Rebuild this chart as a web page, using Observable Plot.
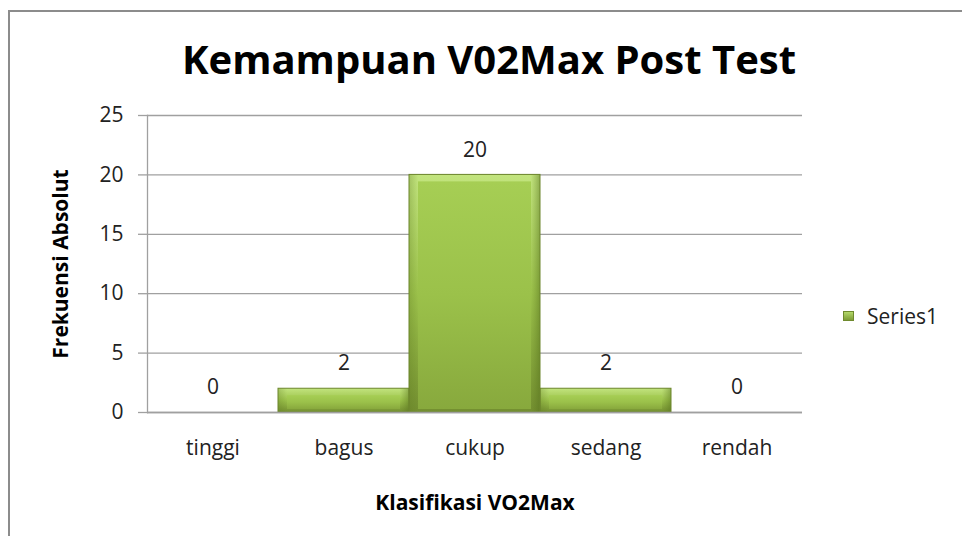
<!DOCTYPE html>
<html><head><meta charset="utf-8">
<script src="https://cdn.jsdelivr.net/npm/d3@7"></script>
<script src="https://cdn.jsdelivr.net/npm/@observablehq/plot@0.6"></script>
<style>
body{margin:0;overflow:hidden;background:#fff;font-family:"Open Sans",Lato,sans-serif;color:#222}
#wrap{position:relative;width:962px;height:536px;overflow:hidden}
#frame{position:absolute;left:8px;top:10px;width:1000px;height:600px;border:2px solid #8c8c8c;box-sizing:border-box}
#title{position:absolute;left:0;width:978px;top:35px;line-height:48px;text-align:center;font-weight:bold;font-size:40px;color:#000;white-space:nowrap}
#chart{position:absolute;left:0;top:100px}
#legend{position:absolute;left:843px;top:302px;font-size:21px;line-height:28px;color:#222;display:flex;align-items:center}
#legend .sw{width:9px;height:8px;margin-right:13px;background:linear-gradient(#b3d86a,#7d9c35);border:1px solid #6f8a2e}
g[aria-label="y-axis label"] text,g[aria-label="x-axis label"] text{font-weight:bold;fill:#000}
</style></head>
<body><div id="wrap"><div id="frame"></div><div id="title"></div><div id="chart"></div><div id="legend"><span class="sw"></span><span id="legtext"></span></div></div>
<script>
const titleText = "Kemampuan V02Max Post Test";
const xTitle = "Klasifikasi VO2Max";
const yTitle = "Frekuensi Absolut";
const seriesName = "Series1";
const categories = ["tinggi", "bagus", "cukup", "sedang", "rendah"];
const values = [0, 2, 20, 2, 0];
const yTicks = [0, 5, 10, 15, 20, 25];

const data = categories.map((c, i) => ({cat: c, value: values[i]}));
document.getElementById("title").textContent = titleText;
document.getElementById("legtext").textContent = seriesName;

const chart = Plot.plot({
  width: 962, height: 430,
  marginLeft: 147, marginRight: 160, marginTop: 15, marginBottom: 118,
  style: {fontFamily: "'Open Sans', Lato, sans-serif", fontSize: "21px", color: "#222", background: "transparent"},
  x: {domain: categories, padding: 0},
  y: {domain: [0, 25]},
  marks: [
    Plot.gridY(yTicks, {stroke: "#a0a0a0", strokeOpacity: 1, strokeWidth: 1.3}),
    Plot.axisY({ticks: yTicks, tickSize: 9, tickPadding: 15, stroke: "#a0a0a0", strokeWidth: 1.3,
      label: yTitle, labelAnchor: "center", labelArrow: "none", labelOffset: 94, fontSize: 21}),
    Plot.axisX({tickSize: 0, tickPadding: 28, label: xTitle, labelAnchor: "center", labelArrow: "none", labelOffset: 97, fontSize: 21}),
    Plot.frame({anchor: "left", stroke: "#a0a0a0", strokeWidth: 1.3}),
    Plot.barY(data, {filter: d => d.value > 0, x: "cat", y: "value", fill: "url(#gEdge)"}),
    Plot.barY(data, {filter: d => d.value > 0, x: "cat", y: "value", fill: "url(#gSide)"}),
    Plot.barY(data, {filter: d => d.value > 0, x: "cat", y: "value", fill: "url(#gFace)", insetLeft: 9, insetRight: 9, insetTop: 7, insetBottom: 3}),
    Plot.barY(data, {filter: d => d.value > 0, x: "cat", y: "value", fill: "none", stroke: "#6c862c", strokeWidth: 1}),
    Plot.ruleY([0], {stroke: "#a0a0a0", strokeWidth: 1.3}),
    Plot.text(data, {x: "cat", y: "value", text: d => String(d.value), dy: -25, fontSize: 21, fill: "#222"})
  ]
});

const ns = "http://www.w3.org/2000/svg";
const defs = document.createElementNS(ns, "defs");
defs.innerHTML = `
<linearGradient id="gEdge" x1="0" y1="0" x2="0" y2="1">
  <stop offset="0" stop-color="#c2e47e"/><stop offset="0.5" stop-color="#9cc24b"/><stop offset="1" stop-color="#738f30"/>
</linearGradient>
<linearGradient id="gSide" x1="0" y1="0" x2="1" y2="0">
  <stop offset="0" stop-color="#5f7a22" stop-opacity="0.3"/><stop offset="0.07" stop-color="#5f7a22" stop-opacity="0"/>
  <stop offset="0.93" stop-color="#5f7a22" stop-opacity="0"/><stop offset="1" stop-color="#4f6a18" stop-opacity="0.45"/>
</linearGradient>
<linearGradient id="gFace" x1="0" y1="0" x2="0" y2="1">
  <stop offset="0" stop-color="#a6ce54"/><stop offset="0.5" stop-color="#9bc14a"/><stop offset="1" stop-color="#88a93d"/>
</linearGradient>`;
chart.insertBefore(defs, chart.firstChild);
document.getElementById("chart").appendChild(chart);
</script>
</body></html>
